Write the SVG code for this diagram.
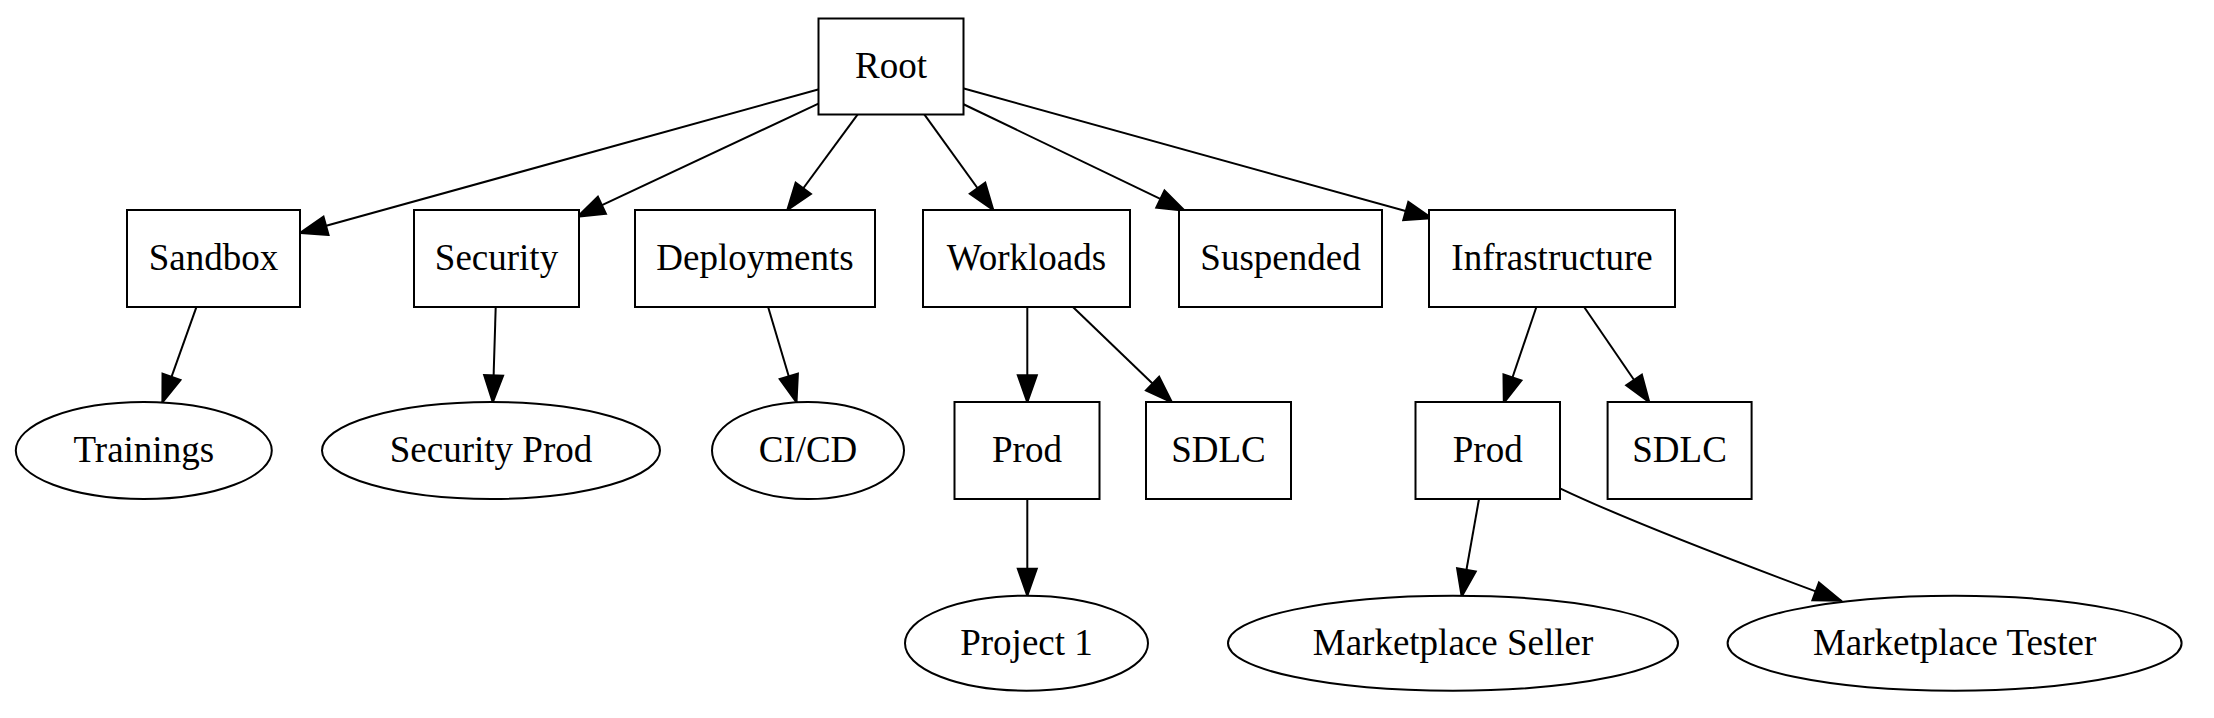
<svg xmlns="http://www.w3.org/2000/svg" width="2214" height="718" viewBox="0 0 2214 718">
<style>
.n rect,.n ellipse{fill:#fff;stroke:#000;stroke-width:2}
.n text{font-family:"Liberation Serif","Times New Roman",serif;font-size:37px;fill:#000;text-anchor:middle}
.e path{fill:none;stroke:#000;stroke-width:2;marker-end:url(#ah)}
</style>
<defs>
<marker id="ah" markerUnits="userSpaceOnUse" markerWidth="30" markerHeight="22" viewBox="-1 -1 30 22" refX="27" refY="9.5" orient="auto" overflow="visible">
<path d="M0,0 L27,9.5 L0,19 Z" fill="#000" stroke="#000" stroke-width="2"/>
</marker>
</defs>
<rect width="2214" height="718" fill="#fff"/>
<g id="edges" class="e">
<path d="M819,89.3 L300,233"/>
<path d="M819,103.3 L577.5,216.7"/>
<path d="M857.7,114.3 L787.3,210"/>
<path d="M924.3,114.3 L993.3,210"/>
<path d="M963,104 L1184.7,210.7"/>
<path d="M963,88.3 L1431.8,218.3"/>
<path d="M196.3,307.3 L162.4,402.3"/>
<path d="M495.7,307.3 L492.8,402.3"/>
<path d="M768.2,307.3 L796.5,402.3"/>
<path d="M1027.3,307.3 L1027.3,402.3"/>
<path d="M1073.2,307.3 L1172,402.3"/>
<path d="M1536.3,307.3 L1503.8,403"/>
<path d="M1584.3,307.3 L1649.3,402.3"/>
<path d="M1027.3,499 L1027.3,595.7"/>
<path d="M1479,499 L1461.7,596.5"/>
<path d="M1560,488.3 C1620,517 1720,556 1841,600.7"/>
</g>
<g id="root" class="n"><rect x="818.5" y="18.5" width="145" height="96"/><text x="891" y="78">Root</text></g>
<g id="sandbox" class="n"><rect x="127" y="210" width="173" height="97"/><text x="213.5" y="270">Sandbox</text></g>
<g id="security" class="n"><rect x="414" y="210" width="165" height="97"/><text x="496.5" y="270">Security</text></g>
<g id="deployments" class="n"><rect x="635" y="210" width="240" height="97"/><text x="755" y="270">Deployments</text></g>
<g id="workloads" class="n"><rect x="923" y="210" width="207" height="97"/><text x="1026.5" y="270">Workloads</text></g>
<g id="suspended" class="n"><rect x="1179" y="210" width="203" height="97"/><text x="1280.5" y="270">Suspended</text></g>
<g id="infrastructure" class="n"><rect x="1429" y="210" width="246" height="97"/><text x="1552" y="270">Infrastructure</text></g>
<g id="trainings" class="n"><ellipse cx="143.8" cy="450.5" rx="128" ry="48.5"/><text x="143.8" y="462">Trainings</text></g>
<g id="security-prod" class="n"><ellipse cx="491" cy="450.5" rx="169" ry="48.5"/><text x="491" y="462">Security Prod</text></g>
<g id="cicd" class="n"><ellipse cx="808" cy="450.5" rx="96" ry="48.5"/><text x="808" y="462">CI/CD</text></g>
<g id="workloads-prod" class="n"><rect x="954.5" y="402" width="145" height="97"/><text x="1027" y="462">Prod</text></g>
<g id="workloads-sdlc" class="n"><rect x="1146" y="402" width="145" height="97"/><text x="1218.5" y="462">SDLC</text></g>
<g id="infra-prod" class="n"><rect x="1415.5" y="402" width="144.5" height="97"/><text x="1487.7" y="462">Prod</text></g>
<g id="infra-sdlc" class="n"><rect x="1607.6" y="402" width="144" height="97"/><text x="1679.6" y="462">SDLC</text></g>
<g id="project1" class="n"><ellipse cx="1026.5" cy="643.2" rx="121.5" ry="47.5"/><text x="1026.5" y="655">Project 1</text></g>
<g id="mp-seller" class="n"><ellipse cx="1453" cy="643.2" rx="225" ry="47.5"/><text x="1453" y="655">Marketplace Seller</text></g>
<g id="mp-tester" class="n"><ellipse cx="1954.6" cy="643.2" rx="227" ry="47.5"/><text x="1954.6" y="655">Marketplace Tester</text></g>
</svg>
